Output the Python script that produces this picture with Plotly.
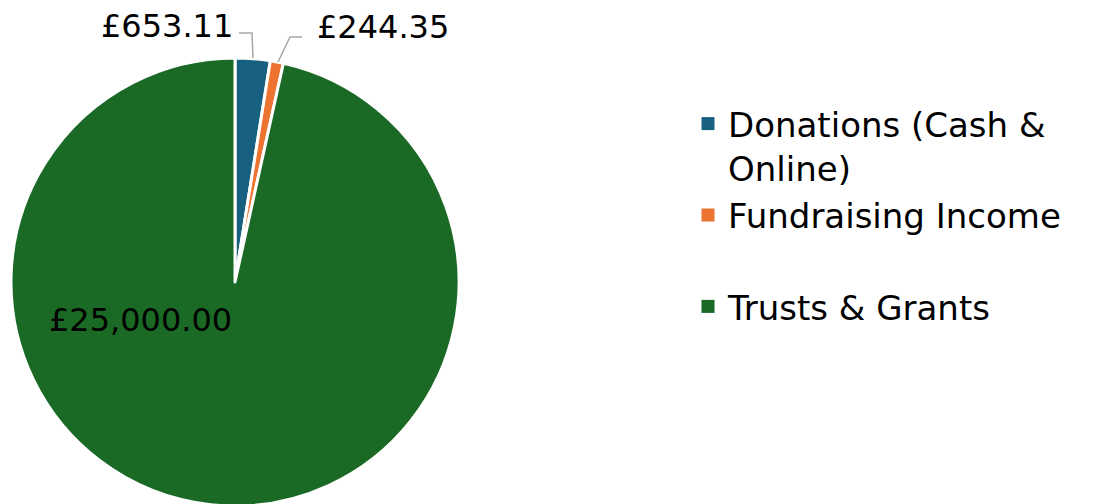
import plotly.graph_objects as go

categories = ["Donations (Cash &<br>Online)", "Fundraising Income<br> ", "Trusts & Grants"]
values = [653.11, 244.35, 25000.00]
colors = ["#17607f", "#ed7331", "#1a6a25"]
label_text = ["£{:,.2f}".format(v) for v in values]

W, H = 1110, 504
OFF = 8  # page body margin offset
FONT = "Verdana, DejaVu Sans, sans-serif"


def px(x):
    return (x - OFF) / W


def py(y):
    return 1 - (y - OFF) / H


fig = go.Figure()
fig.add_trace(go.Pie(
    labels=categories,
    values=values,
    sort=False,
    direction="clockwise",
    rotation=0,
    textinfo="none",
    hoverinfo="label+value",
    showlegend=False,
    marker=dict(colors=colors, line=dict(color="white", width=3)),
    domain=dict(x=[px(11), px(459)], y=[py(506), py(58)]),
))

# legend entries (square swatches without the slice border)
for name, col in zip(categories, colors):
    fig.add_trace(go.Scatter(x=[None], y=[None], mode="markers", name=name,
                             marker=dict(symbol="square", size=13, color=col),
                             hoverinfo="skip"))

# data labels (positions only; text comes from values)
label_pos = [(167, 26), (383, 27), (140, 320)]
for txt, (lx, ly) in zip(label_text, label_pos):
    fig.add_annotation(x=px(lx), y=py(ly), xref="paper", yref="paper",
                       text=txt, showarrow=False, font=dict(size=32, color="black", family=FONT),
                       xanchor="center", yanchor="middle")

# leader lines
leaders = [[(253, 58), (252, 33), (239, 33)], [(278, 62), (290, 37), (302, 37)]]
for pts in leaders:
    path = "M " + " L ".join(f"{px(x)},{py(y)}" for x, y in pts)
    fig.add_shape(type="path", path=path, xref="paper", yref="paper",
                  line=dict(color="#a6a6a6", width=1.5))

fig.update_layout(
    width=W, height=H,
    margin=dict(l=0, r=0, t=0, b=0),
    paper_bgcolor="white",
    plot_bgcolor="white",
    font=dict(family=FONT, size=34, color="black"),
    xaxis=dict(visible=False),
    yaxis=dict(visible=False),
    showlegend=True,
    legend=dict(x=px(688), y=py(95), xanchor="left", yanchor="top",
                valign="top", font=dict(size=34, color="black", family=FONT),
                bgcolor="rgba(0,0,0,0)", tracegroupgap=0),
)

fig.write_html("out.html")
